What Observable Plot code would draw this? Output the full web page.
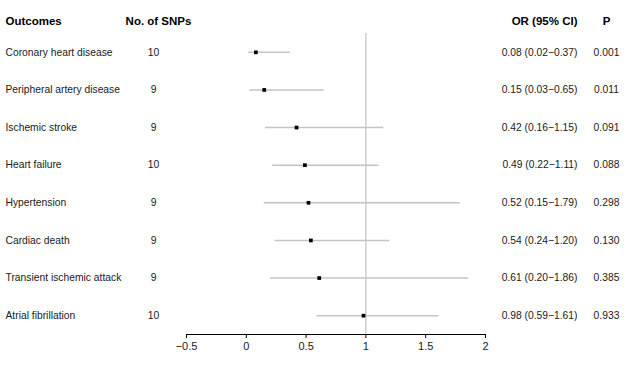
<!DOCTYPE html>
<html>
<head>
<meta charset="utf-8">
<script src="https://cdn.jsdelivr.net/npm/d3@7"></script>
<script src="https://cdn.jsdelivr.net/npm/@observablehq/plot@0.6"></script>
<style>
  html, body { margin: 0; padding: 0; background: #fff; }
  #chart svg { display: block; }
</style>
</head>
<body>
<div id="chart"></div>
<script>
const outcomes = ["Coronary heart disease", "Peripheral artery disease", "Ischemic stroke", "Heart failure", "Hypertension", "Cardiac death", "Transient ischemic attack", "Atrial fibrillation"];
const snps = [10, 9, 9, 10, 9, 9, 9, 10];
const orValues = [0.08, 0.15, 0.42, 0.49, 0.52, 0.54, 0.61, 0.98];
const lowerCI = [0.02, 0.03, 0.16, 0.22, 0.15, 0.24, 0.20, 0.59];
const upperCI = [0.37, 0.65, 1.15, 1.11, 1.79, 1.20, 1.86, 1.61];
const pValues = ["0.001", "0.011", "0.091", "0.088", "0.298", "0.130", "0.385", "0.933"];
const xTicks = [-0.5, 0, 0.5, 1, 1.5, 2];

const rows = outcomes.map((o, i) => ({
  outcome: o,
  snp: String(snps[i]),
  or: orValues[i],
  lo: lowerCI[i],
  hi: upperCI[i],
  label: `${orValues[i].toFixed(2)} (${lowerCI[i].toFixed(2)}\u2212${upperCI[i].toFixed(2)})`,
  p: pValues[i]
}));

const ink = "#1a1a1a";
const bodySize = 10.3;
const headerStyle = {frameAnchor: "top-left", dy: -17, fontWeight: "bold", fontSize: 11.5, fill: "#000"};

const chart = Plot.plot({
  width: 640,
  height: 371,
  marginLeft: 186,
  marginRight: 155,
  marginTop: 33,
  marginBottom: 37,
  style: {fontFamily: "'Liberation Sans', Arial, sans-serif", fontSize: "10.3px", color: ink, background: "#fff"},
  x: {domain: [-0.5, 2]},
  y: {type: "point", domain: outcomes, padding: 0.5, round: false, axis: null},
  marks: [
    Plot.ruleX([1], {stroke: "#b5b5b5", strokeWidth: 1}),
    Plot.ruleY(rows, {y: "outcome", x1: "lo", x2: "hi", stroke: "#c4c4c4", strokeWidth: 1.5}),
    Plot.dot(rows, {x: "or", y: "outcome", symbol: "square", r: 2.1, fill: "#000", stroke: null}),
    Plot.frame({anchor: "bottom", stroke: "#000"}),
    Plot.axisX({ticks: xTicks, tickFormat: d => String(d).replace("-", "\u2212"), tickSize: 4, tickPadding: 4, fontSize: 11, stroke: "#000", fill: ink}),
    // headers
    Plot.text(["Outcomes"], {...headerStyle, dx: -181, textAnchor: "start"}),
    Plot.text(["No. of SNPs"], {...headerStyle, dx: -28, textAnchor: "middle"}),
    Plot.text(["OR (95% CI)"], {...headerStyle, frameAnchor: "top-right", dx: 92, textAnchor: "end"}),
    Plot.text(["P"], {...headerStyle, frameAnchor: "top-right", dx: 121, textAnchor: "middle"}),
    // columns
    Plot.text(rows, {y: "outcome", text: "outcome", frameAnchor: "left", dx: -181, textAnchor: "start", fontSize: bodySize, fill: ink}),
    Plot.text(rows, {y: "outcome", text: "snp", frameAnchor: "left", dx: -33, textAnchor: "middle", fontSize: bodySize, fill: ink}),
    Plot.text(rows, {y: "outcome", text: "label", frameAnchor: "right", dx: 92, textAnchor: "end", fontSize: bodySize, fill: ink}),
    Plot.text(rows, {y: "outcome", text: "p", frameAnchor: "right", dx: 121, textAnchor: "middle", fontSize: bodySize, fill: ink})
  ]
});
document.getElementById("chart").append(chart);
</script>
</body>
</html>
